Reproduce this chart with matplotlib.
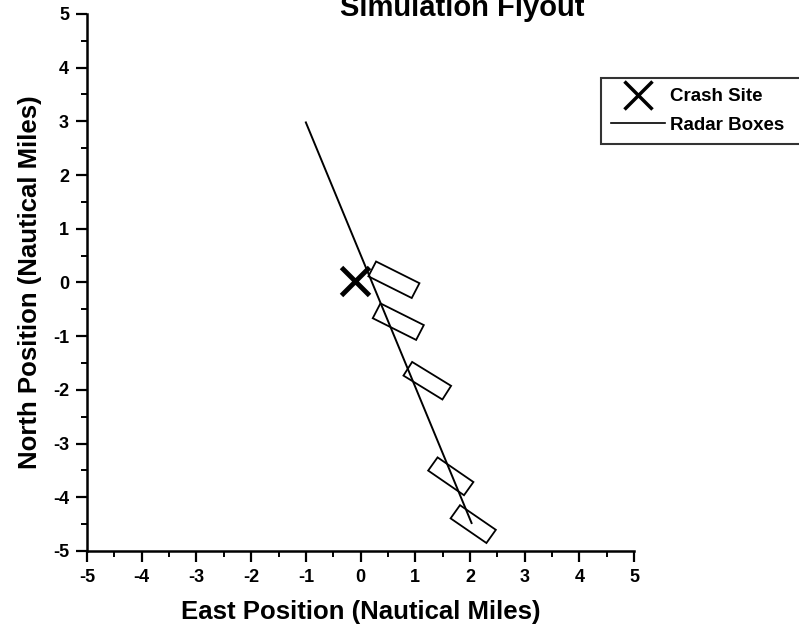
import matplotlib.pyplot as plt
from matplotlib.patches import Rectangle
from matplotlib.lines import Line2D

plt.rcParams['font.family'] = ['Liberation Sans', 'DejaVu Sans']
plt.rcParams['axes.unicode_minus'] = False

# flight track (east, north) in nautical miles
track_east = [-1.0, 2.03]
track_north = [2.98, -4.48]

# crash site
crash_east = [-0.1]
crash_north = [0.03]

# radar boxes: centre, long side, short side, angle (deg)
box_east = [0.61, 0.69, 1.22, 1.65, 2.06]
box_north = [0.05, -0.73, -1.83, -3.61, -4.50]
box_len = [0.89, 0.89, 0.84, 0.80, 0.80]
box_wid = [0.31, 0.31, 0.30, 0.30, 0.30]
box_ang = [-27, -27, -32, -35, -35]

fig = plt.figure(figsize=(7.99, 6.34), dpi=100)
ax = fig.add_axes([0.109, 0.131, 0.6845, 0.847])

ax.plot(track_east, track_north, color='black', lw=1.4)
ax.plot(crash_east, crash_north, 'x', color='black', ms=20, mew=3.5)

for e, n, L, W, a in zip(box_east, box_north, box_len, box_wid, box_ang):
    r = Rectangle((e - L / 2, n - W / 2), L, W, angle=a,
                  rotation_point='center', fill=False, ec='black', lw=1.3)
    ax.add_patch(r)

ax.set_xlim(-5, 5)
ax.set_ylim(-5, 5)
ax.set_xticks(range(-5, 6))
ax.set_yticks(range(-5, 6))
ax.set_xticks([i + 0.5 for i in range(-5, 5)], minor=True)
ax.set_yticks([i + 0.5 for i in range(-5, 5)], minor=True)

for s in ['top', 'right']:
    ax.spines[s].set_visible(False)
for s in ['left', 'bottom']:
    ax.spines[s].set_linewidth(1.8)

ax.tick_params(which='major', direction='out', length=8, width=1.6,
               labelsize=13, pad=5)
ax.tick_params(which='minor', direction='out', length=4, width=1.4)
for lab in ax.get_xticklabels() + ax.get_yticklabels():
    lab.set_fontweight('bold')

ax.set_xlabel('East Position (Nautical Miles)', fontsize=18.5,
              fontweight='bold', labelpad=10)
ax.set_ylabel('North Position (Nautical Miles)', fontsize=18.5,
              fontweight='bold', labelpad=8)

fig.text(0.579, 1 - 16 / 634, 'Simulation Flyout', fontsize=21,
         fontweight='bold', ha='center', va='baseline')

# legend runs off the right edge like the scanned original
handles = [Line2D([], [], ls='none', marker='x', color='black', ms=20, mew=2.5),
           Line2D([], [], color='black', lw=1.2)]
leg = fig.legend(handles, ['Crash Site', 'Radar Boxes'], loc='upper left',
                 bbox_to_anchor=(601 / 799, 1 - 78 / 634, 220 / 799, 0),
                 mode='expand',
                 prop={'size': 13.5, 'weight': 'bold'},
                 frameon=True, fancybox=False, edgecolor='black',
                 handlelength=2.85, borderpad=0.55, labelspacing=0.6,
                 handletextpad=0.3, borderaxespad=0)
leg.get_frame().set_linewidth(1.5)

fig.savefig('out.png', dpi=100)
